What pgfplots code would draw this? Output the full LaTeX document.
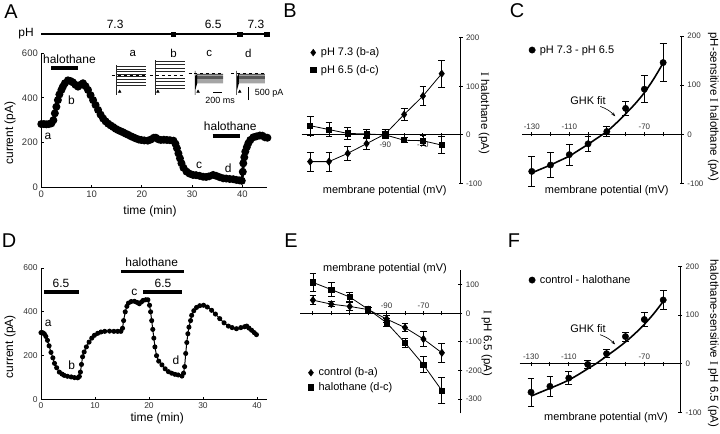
\documentclass[border=0pt]{standalone}
\usepackage{pgfplots}
\pgfplotsset{compat=1.18}
\usepackage{fontspec}
\setmainfont{Liberation Sans}
\newfontfamily\serif{Liberation Serif}
\usetikzlibrary{arrows.meta}
\newcommand\fs[1]{\fontsize{#1}{#1}\selectfont}

\pgfplotsset{
  panelbase/.style={scale only axis, anchor=south west, clip=false,
    axis line style={line width=0.9bp}, every tick/.style={black, line width=0.9bp},
    ticklabel style={text=black!80}, /pgf/number format/assume math mode=true,
    unbounded coords=jump},
  ivstyle/.style={panelbase, axis x line*=middle, axis y line*=right,
    xtick={-130,-120,...,-60}, tick align=center, major tick length=4bp,
    ticklabel style={font=\fs{8}}, hide obscured x ticks=false, hide obscured y ticks=false,
    legend style={draw=none, fill=none, inner sep=0pt, font=\fs{11}, row sep=4bp},
    legend cell align=left},
  errs/.style={error bars/.cd, y dir=both, y explicit, error mark=|,
    error bar style={line width=0.8bp},
    error mark options={black, mark size=3.4bp, line width=0.8bp}},
  legend image code/.code={\path (0bp,0bp) (9bp,0bp);\draw[#1] plot coordinates {(3.5bp,0bp)};},
}

\begin{document}
\begin{tikzpicture}
\path[use as bounding box] (0,0) rectangle (720bp,-434bp);

% ---------------- A ----------------
\begin{axis}[panelbase, at={(41.3bp,-187.5bp)}, width=226.1bp, height=134.5bp,
  xmin=0, xmax=45, ymin=0, ymax=600, axis x line*=bottom, axis y line*=left,
  xtick={0,10,...,40}, ytick={0,200,...,600}, tick align=inside, major tick length=3bp,
  ticklabel style={font=\fs{9.5}}]
\addplot[black, line width=3bp, mark=*, mark size=2.4bp] coordinates {
(0,283)(0.5,283)(1,282)(1.5,283)(2,286)(2.4,300)(2.7,331)(3,360)(3.3,390)(3.6,415)
(4,435)(4.3,450)(4.7,465)(5.3,478)(5.8,475)(6.3,469)(6.8,458)(7.3,450)(7.8,458)(8.3,465)
(8.8,452)(9.3,435)(9.8,412)(10.3,390)(10.8,368)(11.3,346)(11.8,325)(12.3,308)(12.8,295)
(13.3,285)(13.8,277)(14.3,270)(14.8,262)(15.3,256)(15.8,251)(16.3,246)(16.8,240)(17.3,235)
(17.8,229)(18.3,224)(18.8,219)(19.4,214)(19.9,212)(20.5,210)(21.2,209)(21.8,214)(22.4,222)
(22.8,222)(23.3,215)(23.8,212)(24.4,213)(25,212)(25.6,211)(26.3,209)(26.7,195)(27,175)
(27.3,152)(27.6,130)(27.9,108)(28.3,88)(28.9,71)(29.5,62)(30.2,56)(30.8,55)(31.5,52)
(32.2,48)(32.8,47)(33.4,50)(34.2,56)(34.8,52)(35.5,46)(36.2,41)(36.8,40)(37.5,38)(38.2,37)
(38.8,34)(39.4,32)(39.9,30)(40.1,70)(40.2,108)(40.4,135)(40.6,160)(40.9,180)(41.2,197)
(41.6,212)(42.2,224)(42.8,228)(43.5,232)(44,231)(44.5,224)(45,222)};
% pH bar
\addplot[black, line width=2.5bp] coordinates {(0,685)(45,685)};
\addplot[black, only marks, mark=square*, mark size=2.2bp] coordinates {(26.3,685)(39.5,685)(44.9,685)};
% halothane bars
\addplot[black, line width=3.5bp] coordinates {(2,532)(7.3,532)};
\addplot[black, line width=3.5bp] coordinates {(34.1,230)(39.5,230)};
% inset traces
\addplot[black!85, line width=0.5bp] coordinates {
(15,413)(15,546)(15,nan)
(15,539)(20.8,539)(15,nan)(15,529)(20.8,529)(15,nan)(15,517)(20.8,517)(15,nan)
(15,506)(20.8,506)(15,nan)(15,495)(20.8,495)(15,nan)(15,484)(20.8,484)(15,nan)
(15,471)(20.8,471)(15,nan)(15,457)(20.8,457)};
\addplot[black!85, line width=0.5bp] coordinates {
(22.6,413)(22.6,569)(22.6,nan)
(22.6,564)(28.6,564)(22,nan)(22.6,549)(28.6,549)(22,nan)(22.6,534)(28.6,534)(22,nan)
(22.6,518)(28.6,518)(22,nan)(22.6,487)(28.6,487)(22,nan)(22.6,472)(28.6,472)(22,nan)
(22.6,457)(28.6,457)(22,nan)(22.6,444)(28.6,444)};
\addplot[black, line width=0.5bp] coordinates {
(30.6,413)(30.6,520)(30.6,nan)
(30.6,490)(31,506)(36.2,506)(30,nan)(30.6,482)(31,501)(36.2,501)(30,nan)
(30.6,474)(31,496)(36.2,496)(30,nan)(30.6,466)(31,491)(36.2,491)(30,nan)
(30.6,458)(31,486)(36.2,486)(30,nan)(30.6,450)(31,480)(36.2,480)(30,nan)
(30.6,442)(31,474)(36.2,474)(30,nan)(30.6,434)(31,467)(36.2,467)};
\addplot[black, line width=0.5bp] coordinates {
(38.9,413)(38.9,520)(38.9,nan)
(38.9,490)(39.3,506)(44.5,506)(38,nan)(38.9,482)(39.3,501)(44.5,501)(38,nan)
(38.9,474)(39.3,496)(44.5,496)(38,nan)(38.9,466)(39.3,491)(44.5,491)(38,nan)
(38.9,458)(39.3,486)(44.5,486)(38,nan)(38.9,450)(39.3,480)(44.5,480)(38,nan)
(38.9,442)(39.3,474)(44.5,474)(38,nan)(38.9,434)(39.3,467)(44.5,467)};
\addplot[black, line width=0.7bp, dashed] coordinates {(14,502)(20.8,502)};
\addplot[black, line width=0.7bp, dashed] coordinates {(21.6,502)(28.6,502)};
\addplot[black, line width=0.7bp, dashed] coordinates {(29.3,508)(36.2,508)};
\addplot[black, line width=0.7bp, dashed] coordinates {(37.8,508)(44.5,508)};
\addplot[black, only marks, mark=triangle*, mark size=1.6bp] coordinates {(15.6,428)(23.2,428)(31.2,428)(39.5,428)};
% scale bars
\addplot[black, line width=1.4bp] coordinates {(34.2,423)(36,423)};
\addplot[black, line width=1.4bp] coordinates {(41.2,390)(41.2,448)};
\node[font=\fs{9}] at (axis cs:35.6,390) {200 ms};
\node[font=\fs{9}, anchor=west] at (axis cs:41.8,420) {500 pA};
\node[font=\fs{11.5}] at (axis cs:18.2,600) {a};
\node[font=\fs{11.5}] at (axis cs:26.3,600) {b};
\node[font=\fs{11.5}] at (axis cs:33.4,600) {c};
\node[font=\fs{11.5}] at (axis cs:41.2,600) {d};
% texts
\node[font=\fs{12}] at (axis cs:14.7,727) {7.3};
\node[font=\fs{12}] at (axis cs:34.2,727) {6.5};
\node[font=\fs{12}] at (axis cs:42.7,727) {7.3};
\node[font=\fs{12}, anchor=east] at (axis cs:-0.8,685) {pH};
\node[font=\fs{12}] at (axis cs:5.6,572) {halothane};
\node[font=\fs{12}] at (axis cs:37.6,274) {halothane};
\node[font=\fs{12}] at (axis cs:1.3,230) {a};
\node[font=\fs{12}] at (axis cs:6,390) {b};
\node[font=\fs{12}] at (axis cs:31.4,100) {c};
\node[font=\fs{12}] at (axis cs:37.2,86) {d};
\node[font=\fs{12}] at (rel axis cs:0.481,-0.18) {time (min)};
\node[font=\fs{12}, rotate=90] at (rel axis cs:-0.138,0.405) {current (pA)};
\end{axis}

% ---------------- B ----------------
\begin{axis}[ivstyle, at={(301.7bp,-183.5bp)}, width=158.8bp, height=145.8bp,
  xmin=-134.5, xmax=-50, ymin=-100, ymax=200, ytick={-100,0,100,200},
  xticklabels={,,,,-90,,-70,}, xticklabel style={yshift=-2bp},
  legend style={at={(0.048,0.838)}, anchor=west}]
\addlegendimage{black, only marks, mark=diamond*, mark size=3.4bp}
\addlegendentry{pH 7.3 (b-a)}
\addlegendimage{black, only marks, mark=square*, mark size=2.6bp}
\addlegendentry{pH 6.5 (d-c)}
\addplot[black, line width=0.8bp, mark=diamond*, mark size=3.4bp, errs] table[x=x, y=y, y error=e] {
x y e
-130 -55 20
-120 -55 20
-110 -38 15
-100 -18 12
-90 2 10
-80 42 12
-70 80 19
-60 126 28
};
\addplot[black, line width=0.8bp, mark=square*, mark size=2.6bp, errs] table[x=x, y=y, y error=e] {
x y e
-130 19 20
-120 11 15
-110 3 12
-100 2 9
-90 0 8
-80 -11 5
-70 -12 10
-60 -21 18
};
\node[font=\fs{11}] at (rel axis cs:0.523,-0.051) {membrane potential (mV)};
\node[font=\fs{11.5}, rotate=-90] at (rel axis cs:1.148,0.481) {{\serif I} halothane (pA)};
\end{axis}

% ---------------- C ----------------
\begin{axis}[ivstyle, at={(522bp,-183.7bp)}, width=159.9bp, height=147.7bp,
  xmin=-135.2, xmax=-50, ymin=-100, ymax=200, ytick={-100,0,100,200},
  xticklabels={-130,,-110,,,,-70,}, xticklabel style={anchor=south, yshift=3bp},
  legend style={at={(0.039,0.905)}, anchor=west}]
\addlegendimage{black, only marks, mark=*, mark size=3.2bp}
\addlegendentry{pH 7.3 - pH 6.5}
\addplot[black, line width=1.6bp, smooth] coordinates {
(-130,-78)(-125,-70)(-120,-62)(-115,-53)(-110,-44)(-105,-32)(-100,-20)(-95,-7)
(-90,6)(-85,23)(-80,42)(-75,62)(-70,85)(-65,113)(-60,145)};
\addplot[black, only marks, mark=*, mark size=3.2bp, errs] table[x=x, y=y, y error=e] {
x y e
-130 -75 30
-120 -62 25
-110 -41 21
-100 -19 15
-90 6 10
-80 53 15
-70 92 27
-60 146 39
};
\node[font=\fs{11}] at (axis cs:-100,68) {GHK fit};
\draw[-{Stealth[length=4bp]}, line width=0.6bp] (axis cs:-93.5,57) to[out=-20,in=135] (axis cs:-85.5,37);
\node[font=\fs{11}] at (rel axis cs:0.53,-0.047) {membrane potential (mV)};
\node[font=\fs{11.5}, rotate=-90] at (rel axis cs:1.196,0.521) {pH-sensitive {\serif I} halothane (pA)};
\end{axis}

% ---------------- D ----------------
\begin{axis}[panelbase, at={(41bp,-399.5bp)}, width=225.7bp, height=131.5bp,
  xmin=0, xmax=41.8, ymin=0, ymax=600, axis x line*=bottom, axis y line*=left,
  xtick={0,10,...,40}, ytick={0,200,...,600}, tick align=inside, major tick length=3bp,
  ticklabel style={font=\fs{8.5}}]
\addplot[black, line width=1bp, mark=*, mark size=2bp] coordinates {
(0,305)(0.3,305)(0.6,300)(0.9,288)(1.2,270)(1.5,245)(1.85,215)(2.2,190)(2.5,165)(2.9,145)
(3.4,125)(3.9,116)(4.3,110)(4.9,106)(5.6,103)(6.2,100)(6.8,99)(7.1,105)(7.3,125)(7.5,160)
(7.7,195)(8,217)(8.4,240)(8.9,262)(9.4,280)(9.9,293)(10.5,302)(11.1,308)(11.8,311)(12.7,312)
(13.5,311)(14.2,311)(14.8,311)(15.1,325)(15.3,360)(15.6,400)(15.9,425)(16.2,440)(16.7,447)
(17.3,448)(17.8,443)(18.2,437)(18.6,445)(18.9,452)(19.4,455)(19.8,455)(20.1,430)(20.3,400)
(20.5,360)(20.7,320)(20.9,280)(21.1,240)(21.4,200)(21.8,175)(22.4,158)(23,140)(23.6,127)
(24.2,120)(24.8,115)(25.4,112)(26.1,107)(26.4,120)(26.6,150)(26.8,210)(27,260)(27.2,300)
(27.4,330)(27.7,360)(27.9,384)(28.3,405)(28.8,420)(29.4,428)(30.1,430)(30.8,422)(31.6,407)
(32.3,390)(33.1,369)(33.9,350)(34.7,335)(35.4,328)(36.2,323)(37,328)(37.7,332)(38.1,335)
(38.5,326)(39,316)(39.5,305)(39.9,296)};
\addplot[black, line width=3.5bp] coordinates {(0.6,490)(7,490)};
\addplot[black, line width=3.5bp] coordinates {(14.8,585)(26.4,585)};
\addplot[black, line width=3.5bp] coordinates {(18.9,490)(26.2,490)};
\node[font=\fs{12}] at (axis cs:3.7,530) {6.5};
\node[font=\fs{12}] at (axis cs:22.6,530) {6.5};
\node[font=\fs{12}] at (axis cs:20.5,626) {halothane};
\node[font=\fs{12}] at (axis cs:1.35,346) {a};
\node[font=\fs{12}] at (axis cs:5.7,156) {b};
\node[font=\fs{12}] at (axis cs:17.3,490) {c};
\node[font=\fs{12}] at (axis cs:25,179) {d};
\node[font=\fs{12}] at (rel axis cs:0.515,-0.143) {time (min)};
\node[font=\fs{12}, rotate=90] at (rel axis cs:-0.137,0.40) {current (pA)};
\end{axis}

% ---------------- E ----------------
\begin{axis}[ivstyle, at={(300bp,-413.4bp)}, width=160.3bp, height=143bp,
  xmin=-137, xmax=-50, ymin=-350, ymax=150, ytick={-300,-200,...,100},
  xticklabels={,,,,-90,,-70,}, xticklabel style={anchor=south, yshift=3bp},
  legend style={at={(0.044,0.234)}, anchor=west, row sep=1bp}]
\addlegendimage{black, only marks, mark=diamond*, mark size=3.4bp}
\addlegendentry{control (b-a)}
\addlegendimage{black, only marks, mark=square*, mark size=2.6bp}
\addlegendentry{halothane (d-c)}
\addplot[black, line width=0.8bp, mark=diamond*, mark size=3.4bp, errs] table[x=x, y=y, y error=e] {
x y e
-130 46 15
-120 32 8
-110 24 15
-100 13 8
-90 -20 12
-80 -50 14
-70 -90 25
-60 -138 33
};
\addplot[black, line width=0.8bp, mark=square*, mark size=2.6bp, errs] table[x=x, y=y, y error=e] {
x y e
-130 108 33
-120 83 24
-110 57 17
-100 14 8
-90 -33 14
-80 -103 15
-70 -180 28
-60 -270 46
};
\node[font=\fs{11}] at (rel axis cs:0.53,1.015) {membrane potential (mV)};
\node[font=\fs{11.5}, rotate=-90] at (rel axis cs:1.165,0.49) {{\serif I} pH 6.5 (pA)};
\end{axis}

% ---------------- F ----------------
\begin{axis}[ivstyle, at={(519.7bp,-412.7bp)}, width=160.5bp, height=146.4bp,
  xmin=-136, xmax=-51, ymin=-100, ymax=200, ytick={-100,0,100,200},
  xticklabels={-130,,-110,,,,-70,}, xticklabel style={anchor=south, yshift=3bp},
  legend style={at={(0.053,0.906)}, anchor=west}]
\addlegendimage{black, only marks, mark=*, mark size=3.2bp}
\addlegendentry{control - halothane}
\addplot[black, line width=1.6bp, smooth] coordinates {
(-130,-66)(-125,-58)(-120,-50)(-115,-42)(-110,-33)(-105,-22)(-100,-10)(-95,2)
(-90,16)(-85,30)(-80,45)(-75,62)(-70,81)(-65,103)(-60,128)};
\addplot[black, only marks, mark=*, mark size=3.2bp, errs] table[x=x, y=y, y error=e] {
x y e
-130 -58 29
-120 -46 20
-110 -29 14
-100 -1 8
-90 21 8
-80 56 9
-70 91 15
-60 131 20
};
\node[font=\fs{11}] at (axis cs:-99.8,72) {GHK fit};
\draw[-{Stealth[length=4bp]}, line width=0.6bp] (axis cs:-93.5,60) to[out=-20,in=135] (axis cs:-85.5,40);
\node[font=\fs{11}] at (rel axis cs:0.538,-0.031) {membrane potential (mV)};
\node[font=\fs{11.5}, rotate=-90] at (rel axis cs:1.206,0.474) {halothane-sensitive {\serif I} pH 6.5 (pA)};
\end{axis}

% panel letters
\node[font=\fs{20}] at (11bp,-12bp) {A};
\node[font=\fs{20}] at (290bp,-11bp) {B};
\node[font=\fs{20}] at (517bp,-11bp) {C};
\node[font=\fs{20}] at (9bp,-241bp) {D};
\node[font=\fs{20}] at (291bp,-241bp) {E};
\node[font=\fs{20}] at (514bp,-241bp) {F};
\end{tikzpicture}
\end{document}
